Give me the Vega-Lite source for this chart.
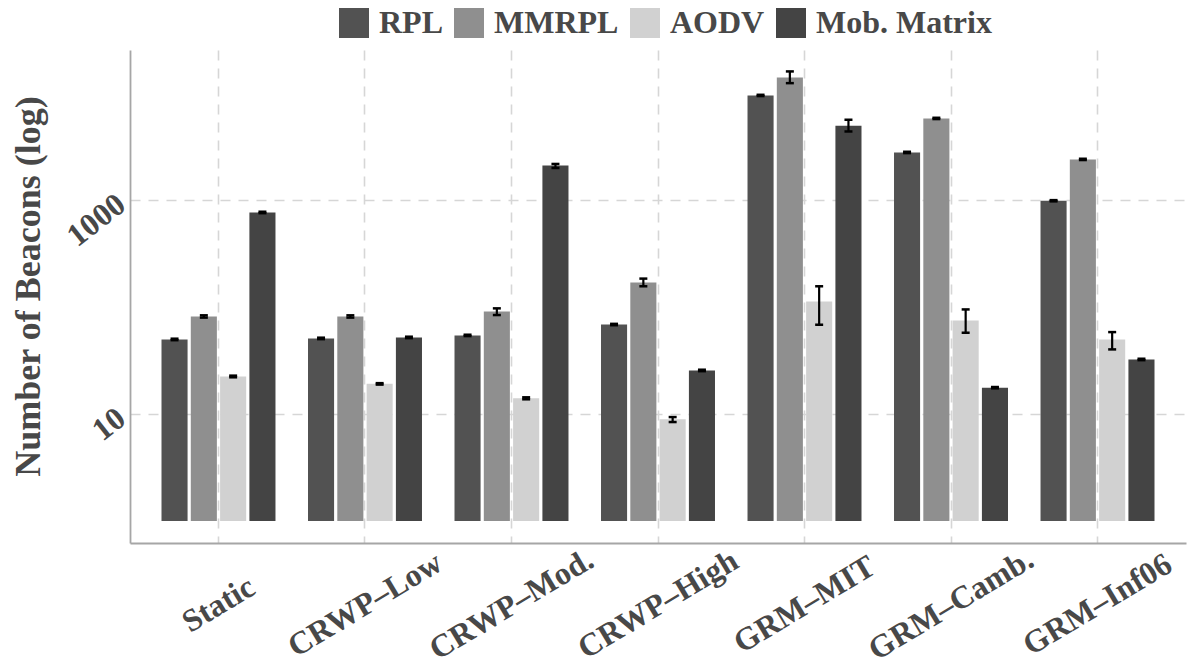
{
  "$schema": "https://vega.github.io/schema/vega-lite/v6.json",
  "width": 1056,
  "height": 493,
  "autosize": "none",
  "padding": {"left": 130, "top": 50, "right": 5, "bottom": 123},
  "background": "white",
  "config": {"view": {"stroke": null}, "font": "Liberation Serif"},
  "data": {
    "values": [
      {"scenario": "Static", "protocol": "RPL", "value": 49.7, "lo": 48.9, "hi": 50.5},
      {"scenario": "Static", "protocol": "MMRPL", "value": 81.5, "lo": 79.5, "hi": 83.5},
      {"scenario": "Static", "protocol": "AODV", "value": 22.4, "lo": 22.0, "hi": 22.8},
      {"scenario": "Static", "protocol": "Mob. Matrix", "value": 764, "lo": 752, "hi": 776},
      {"scenario": "CRWP–Low", "protocol": "RPL", "value": 50.8, "lo": 50.0, "hi": 51.6},
      {"scenario": "CRWP–Low", "protocol": "MMRPL", "value": 81.5, "lo": 79.5, "hi": 83.5},
      {"scenario": "CRWP–Low", "protocol": "AODV", "value": 19.1, "lo": 18.8, "hi": 19.4},
      {"scenario": "CRWP–Low", "protocol": "Mob. Matrix", "value": 51.9, "lo": 51.1, "hi": 52.7},
      {"scenario": "CRWP–Mod.", "protocol": "RPL", "value": 54.2, "lo": 53.4, "hi": 55.0},
      {"scenario": "CRWP–Mod.", "protocol": "MMRPL", "value": 90.8, "lo": 84, "hi": 97},
      {"scenario": "CRWP–Mod.", "protocol": "AODV", "value": 14.0, "lo": 13.7, "hi": 14.3},
      {"scenario": "CRWP–Mod.", "protocol": "Mob. Matrix", "value": 2099, "lo": 1990, "hi": 2170},
      {"scenario": "CRWP–High", "protocol": "RPL", "value": 68.5, "lo": 67.5, "hi": 69.5},
      {"scenario": "CRWP–High", "protocol": "MMRPL", "value": 169, "lo": 156, "hi": 184},
      {"scenario": "CRWP–High", "protocol": "AODV", "value": 8.9, "lo": 8.4, "hi": 9.35},
      {"scenario": "CRWP–High", "protocol": "Mob. Matrix", "value": 25.5, "lo": 25.1, "hi": 25.9},
      {"scenario": "GRM–MIT", "protocol": "RPL", "value": 9480, "lo": 9350, "hi": 9610},
      {"scenario": "GRM–MIT", "protocol": "MMRPL", "value": 13970, "lo": 12350, "hi": 15890},
      {"scenario": "GRM–MIT", "protocol": "AODV", "value": 112.5, "lo": 68.2, "hi": 156},
      {"scenario": "GRM–MIT", "protocol": "Mob. Matrix", "value": 4930, "lo": 4365, "hi": 5617},
      {"scenario": "GRM–Camb.", "protocol": "RPL", "value": 2780, "lo": 2740, "hi": 2820},
      {"scenario": "GRM–Camb.", "protocol": "MMRPL", "value": 5780, "lo": 5700, "hi": 5860},
      {"scenario": "GRM–Camb.", "protocol": "AODV", "value": 74.8, "lo": 57.4, "hi": 94.8},
      {"scenario": "GRM–Camb.", "protocol": "Mob. Matrix", "value": 17.6, "lo": 17.35, "hi": 17.85},
      {"scenario": "GRM–Inf06", "protocol": "RPL", "value": 983, "lo": 970, "hi": 996},
      {"scenario": "GRM–Inf06", "protocol": "MMRPL", "value": 2393, "lo": 2360, "hi": 2426},
      {"scenario": "GRM–Inf06", "protocol": "AODV", "value": 49.7, "lo": 40.1, "hi": 58.2},
      {"scenario": "GRM–Inf06", "protocol": "Mob. Matrix", "value": 32.3, "lo": 31.8, "hi": 32.8}
    ]
  },
  "encoding": {
    "x": {
      "field": "scenario",
      "type": "nominal",
      "sort": ["Static", "CRWP–Low", "CRWP–Mod.", "CRWP–High", "GRM–MIT", "GRM–Camb.", "GRM–Inf06"],
      "scale": {"paddingInner": 0.2, "paddingOuter": 0.204},
      "axis": {
        "title": null,
        "bandPosition": 0.5,
        "labelAngle": -31,
        "labelAlign": "center",
        "labelBaseline": "middle",
        "labelPadding": 61,
        "ticks": false,
        "tickSize": 0,
        "labelFont": "Liberation Serif",
        "labelFontWeight": "bold",
        "labelFontSize": 32,
        "labelColor": "#484848",
        "labelLimit": 400,
        "labelOverlap": false,
        "labelBound": false,
        "grid": true,
        "gridColor": "#d6d6d6",
        "gridDash": [10, 8],
        "gridWidth": 1.6,
        "domainColor": "#a6a6a6",
        "domainWidth": 1.8
      }
    },
    "xOffset": {
      "field": "protocol",
      "type": "nominal",
      "sort": ["RPL", "MMRPL", "AODV", "Mob. Matrix"],
      "scale": {"paddingInner": 0.11, "paddingOuter": 0.055}
    }
  },
  "layer": [
    {
      "mark": {"type": "bar"},
      "encoding": {
        "y": {
          "field": "value",
          "type": "quantitative",
          "scale": {"type": "log", "domain": [0.622, 25200], "nice": false},
          "axis": {
            "title": "Number of Beacons (log)",
            "values": [10, 1000],
            "format": "d",
            "labelAngle": -38,
            "labelAlign": "right",
            "labelBaseline": "middle",
            "labelPadding": 9,
            "ticks": false,
            "tickSize": 0,
            "labelFont": "Liberation Serif",
            "labelFontWeight": "bold",
            "labelFontSize": 32,
            "labelColor": "#484848",
            "grid": true,
            "gridColor": "#d6d6d6",
            "gridDash": [10, 8],
            "gridWidth": 1.6,
            "domainColor": "#a6a6a6",
            "domainWidth": 1.8,
            "titleFont": "Liberation Serif",
            "titleFontWeight": "bold",
            "titleFontSize": 36,
            "titleColor": "#484848",
            "titleAngle": -90,
            "titleBaseline": "middle",
            "titleAlign": "center",
            "titleX": -102,
            "titleY": 236
          }
        },
        "y2": {"datum": 1},
        "color": {
          "field": "protocol",
          "type": "nominal",
          "scale": {
            "domain": ["RPL", "MMRPL", "AODV", "Mob. Matrix"],
            "range": ["#525252", "#8f8f8f", "#d1d1d1", "#444444"]
          },
          "legend": {
            "orient": "none",
            "legendX": 208,
            "legendY": -43,
            "direction": "horizontal",
            "title": null,
            "padding": 0,
            "symbolType": "square",
            "symbolSize": 900,
            "symbolStrokeWidth": 0,
            "symbolOpacity": 1,
            "labelFont": "Liberation Serif",
            "labelFontWeight": "bold",
            "labelFontSize": 32,
            "labelColor": "#484848",
            "labelLimit": 400,
            "labelOffset": 9,
            "columnPadding": 10
          }
        }
      }
    },
    {
      "mark": {"type": "rule", "color": "black", "strokeWidth": 2.2},
      "encoding": {
        "y": {"field": "lo", "type": "quantitative"},
        "y2": {"field": "hi"}
      }
    },
    {
      "mark": {"type": "tick", "color": "black", "size": 8, "thickness": 2.5, "opacity": 1},
      "encoding": {
        "y": {"field": "lo", "type": "quantitative"}
      }
    },
    {
      "mark": {"type": "tick", "color": "black", "size": 8, "thickness": 2.5, "opacity": 1},
      "encoding": {
        "y": {"field": "hi", "type": "quantitative"}
      }
    }
  ]
}
